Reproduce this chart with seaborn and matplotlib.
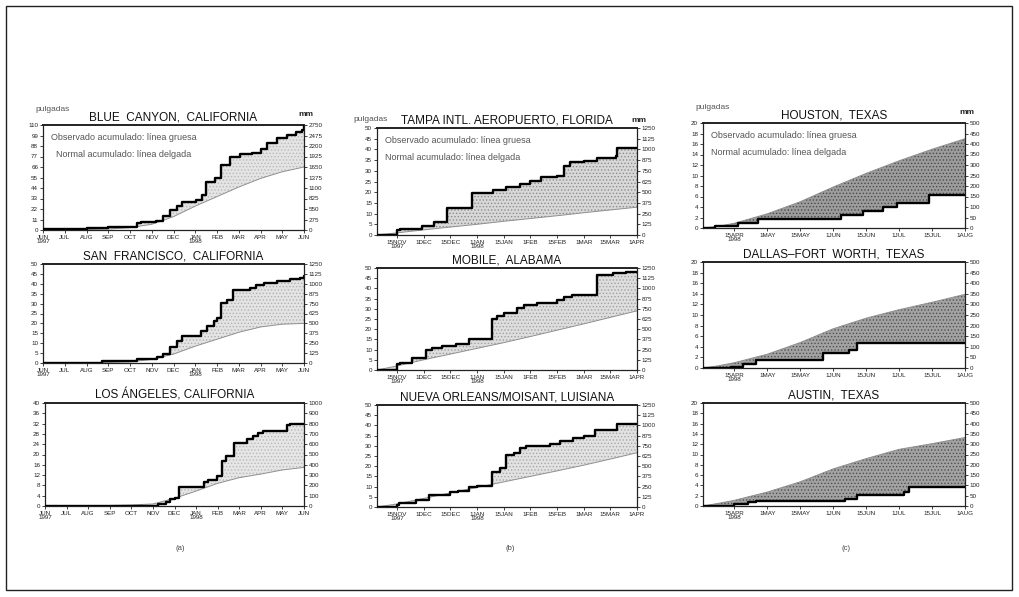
import numpy as np
import matplotlib
matplotlib.use('Agg')
import matplotlib.pyplot as plt
import seaborn as sns
from matplotlib.patches import Rectangle

# ---- column (a): x = months since 1 Jun 1997 ----
months_a = [0, 1, 2, 3, 4, 5, 6, 7, 8, 9, 10, 11, 12]
labels_a = ['JUN\n1997', 'JUL', 'AUG', 'SEP', 'OCT', 'NOV', 'DEC', 'JAN\n1998',
            'FEB', 'MAR', 'APR', 'MAY', 'JUN']

blue_obs_x = [0, 1.0, 2.0, 3.0, 4.0, 4.3, 4.5, 5.2, 5.5, 5.85, 6.15, 6.4, 7.05, 7.3, 7.5,
              7.9, 8.2, 8.6, 9.05, 9.6, 10.0, 10.3, 10.75, 11.2, 11.65, 11.9, 12.0]
blue_obs_y = [1.0, 1.5, 2.0, 2.8, 3.6, 7.0, 8.3, 9.5, 15.0, 21.0, 25.0, 29.5, 31.5, 37.0, 50.0,
              54.0, 68.0, 76.5, 79.5, 80.5, 84.5, 91.0, 96.0, 99.5, 103.0, 105.0, 109.0]
blue_norm = [0, 0.3, 0.5, 1.0, 2.5, 6.0, 14.0, 25.0, 35.0, 45.0, 54.0, 61.0, 66.0]

sf_obs_x = [0, 2.7, 4.3, 5.25, 5.5, 5.85, 6.15, 6.4, 7.25, 7.55, 7.85, 8.0, 8.2, 8.45, 8.75,
            9.5, 9.8, 10.15, 10.75, 11.35, 11.8, 12.0]
sf_obs_y = [0.2, 0.8, 1.9, 3.2, 4.6, 8.0, 11.0, 13.4, 16.0, 18.5, 21.0, 22.5, 30.4, 32.0, 37.0,
            37.8, 39.3, 40.5, 41.4, 42.5, 43.0, 44.0]
sf_norm = [0, 0.03, 0.1, 0.3, 0.6, 1.8, 4.5, 8.5, 12.0, 15.5, 18.2, 19.6, 20.0]

la_obs_x = [0, 5.25, 5.6, 5.8, 6.0, 6.2, 7.35, 7.55, 7.95, 8.2, 8.4, 8.75, 9.35, 9.65, 9.85,
            10.1, 11.2, 11.35, 12.0]
la_obs_y = [0.1, 0.9, 1.5, 2.6, 3.2, 7.3, 9.2, 10.0, 11.8, 17.6, 19.5, 24.6, 26.0, 27.2, 28.2,
            29.0, 31.3, 32.0, 32.0]
la_norm = [0, 0.03, 0.1, 0.2, 0.4, 0.8, 3.0, 5.8, 8.8, 11.0, 12.4, 14.0, 15.0]

# ---- column (b): x = half-months from 15 Nov 1997 ----
ticks_b = [0, 1, 2, 3, 4, 5, 6, 7, 8, 9]
labels_b = ['15NOV\n1997', '1DEC', '15DEC', '1JAN\n1998', '15JAN', '1FEB', '15FEB',
            '1MAR', '15MAR', '1APR']
norm_x_b = [-0.75, 0, 1, 2, 3, 4, 5, 6, 7, 8, 9]

tampa_obs_x = [-0.75, 0, 0.1, 0.94, 1.375, 1.875, 2.81, 3.6, 4.1, 4.6, 5.0, 5.4, 6.0, 6.25,
               6.5, 7.0, 7.5, 8.2, 8.25, 9.0]
tampa_obs_y = [0, 2.5, 3.0, 4.2, 6.3, 12.6, 19.5, 21.2, 22.2, 23.8, 25.2, 27.0, 27.8, 32.3,
               34.0, 34.8, 35.8, 37.0, 40.5, 40.5]
tampa_norm = [0, 1.0, 2.4, 3.7, 5.0, 6.4, 7.7, 9.0, 10.4, 11.7, 13.0]

mobile_obs_x = [-0.75, 0, 0.1, 0.56, 1.1, 1.3, 1.7, 2.2, 2.69, 3.0, 3.56, 3.75, 4.0, 4.5,
                4.75, 5.25, 6.0, 6.25, 6.56, 7.5, 8.1, 8.6, 9.0]
mobile_obs_y = [0, 2.7, 3.2, 5.8, 9.8, 10.6, 12.0, 12.7, 15.0, 15.4, 25.0, 26.5, 28.0, 30.5,
                32.0, 33.0, 34.5, 36.0, 37.0, 46.5, 47.5, 48.0, 48.0]
mobile_norm = [0, 2.0, 5.0, 7.8, 10.6, 13.4, 16.4, 19.5, 22.6, 25.8, 29.0]

nola_obs_x = [-0.75, 0, 0.06, 0.7, 1.19, 2.0, 2.3, 2.69, 3.0, 3.56, 3.85, 4.1, 4.4, 4.6,
              4.85, 5.75, 6.1, 6.6, 7.0, 7.44, 8.25, 9.0]
nola_obs_y = [0, 1.2, 2.0, 3.3, 6.0, 7.4, 7.7, 9.7, 10.2, 17.3, 19.2, 25.3, 26.6, 29.0,
              30.0, 30.8, 32.4, 33.7, 34.9, 37.8, 40.8, 40.8]
nola_norm = [0, 1.5, 4.2, 6.9, 9.6, 12.3, 15.0, 17.7, 20.5, 23.5, 26.6]

# ---- column (c): x = half-months from 15 Apr 1998 ----
ticks_c = [0, 1, 2, 3, 4, 5, 6, 7]
labels_c = ['15APR\n1998', '1MAY', '15MAY', '1JUN', '15JUN', '1JUL', '15JUL', '1AUG']
norm_x_c = [-0.95, -0.5, 0, 1, 2, 3, 4, 5, 6, 7]

houston_obs_x = [-0.95, -0.6, 0.1, 0.73, 3.25, 3.9, 4.5, 4.95, 5.9, 7.0]
houston_obs_y = [0, 0.3, 0.9, 1.8, 2.5, 3.3, 4.0, 4.8, 6.2, 6.2]
houston_norm = [0, 0.3, 0.9, 2.7, 5.0, 7.8, 10.4, 12.8, 15.0, 17.0]

dallas_obs_x = [-0.95, -0.1, 0.26, 0.66, 2.7, 3.47, 3.72, 7.0]
dallas_obs_y = [0, 0.2, 0.8, 1.5, 2.8, 3.4, 4.7, 4.7]
dallas_norm = [0, 0.4, 1.0, 2.6, 4.8, 7.4, 9.4, 11.0, 12.4, 13.9]

austin_obs_x = [-0.95, 0, 0.41, 0.66, 3.37, 3.72, 5.15, 5.3, 7.0]
austin_obs_y = [0, 0.45, 0.8, 0.9, 1.4, 2.2, 2.8, 3.6, 3.6]
austin_norm = [0, 0.5, 1.1, 2.7, 4.7, 7.2, 9.2, 11.0, 12.1, 13.3]

W, H = 1019, 597


def px_axes(left, top, right, bottom):
    return [left / W, 1 - bottom / H, (right - left) / W, (bottom - top) / H]


def step_xy(x, y):
    x = np.asarray(x, float)
    y = np.asarray(y, float)
    return np.repeat(x, 2)[1:], np.repeat(y, 2)[:-1]


sns.set_style('white')
plt.rcParams['font.family'] = ['Liberation Sans', 'DejaVu Sans']
plt.rcParams['hatch.linewidth'] = 0.6

panels = [
    # title, box px, obs x, obs y, norm x, norm y, ticks, labels, xlim, ymax, ystep, mm step, fill, hatch col
    ('BLUE  CANYON,  CALIFORNIA', (43, 125, 304, 230), blue_obs_x, blue_obs_y, months_a, blue_norm,
     months_a, labels_a, (0, 12), 110, 11, 275, '#e4e4e4', '#b8b8b8'),
    ('SAN  FRANCISCO,  CALIFORNIA', (43, 264, 304, 363), sf_obs_x, sf_obs_y, months_a, sf_norm,
     months_a, labels_a, (0, 12), 50, 5, 125, '#e4e4e4', '#b0b0b0'),
    ('LOS ÁNGELES, CALIFORNIA', (45, 403, 304, 506), la_obs_x, la_obs_y, months_a, la_norm,
     months_a, labels_a, (0, 12), 40, 4, 100, '#e6e6e6', '#b8b8b8'),
    ('TAMPA INTL. AEROPUERTO, FLORIDA', (377, 128, 637, 235), tampa_obs_x, tampa_obs_y, norm_x_b,
     tampa_norm, ticks_b, labels_b, (-0.75, 9), 50, 5, 125, '#d8d8d8', '#8c8c8c'),
    ('MOBILE,  ALABAMA', (377, 268, 637, 370), mobile_obs_x, mobile_obs_y, norm_x_b, mobile_norm,
     ticks_b, labels_b, (-0.75, 9), 50, 5, 125, '#dedede', '#a0a0a0'),
    ('NUEVA ORLEANS/MOISANT, LUISIANA', (377, 405, 637, 507), nola_obs_x, nola_obs_y, norm_x_b,
     nola_norm, ticks_b, labels_b, (-0.75, 9), 50, 5, 125, '#e2e2e2', '#a8a8a8'),
    ('HOUSTON,  TEXAS', (703, 123, 965, 228), houston_obs_x, houston_obs_y, norm_x_c, houston_norm,
     ticks_c, labels_c, (-0.95, 7), 20, 2, 50, '#9c9c9c', '#4a4a4a'),
    ('DALLAS\u2013FORT  WORTH,  TEXAS', (703, 262, 965, 368), dallas_obs_x, dallas_obs_y, norm_x_c,
     dallas_norm, ticks_c, labels_c, (-0.95, 7), 20, 2, 50, '#a2a2a2', '#505050'),
    ('AUSTIN,  TEXAS', (703, 403, 965, 506), austin_obs_x, austin_obs_y, norm_x_c, austin_norm,
     ticks_c, labels_c, (-0.95, 7), 20, 2, 50, '#a2a2a2', '#505050'),
]

fig = plt.figure(figsize=(W / 100, H / 100), dpi=100)
fig.patch.set_facecolor('white')
fig.add_artist(Rectangle((6 / W, 1 - 590 / H), 1006 / W, 584 / H, transform=fig.transFigure,
                         fill=False, edgecolor='#222222', lw=1.0))

for i, (title, box, ox, oy, nx, ny, ticks, labels, xlim, ymax, ystep, mmstep, fc, hc) in enumerate(panels):
    ax = fig.add_axes(px_axes(*box))
    sx, sy = step_xy(ox, oy)
    poly_x = np.concatenate([sx, np.asarray(nx, float)[::-1]])
    poly_y = np.concatenate([sy, np.asarray(ny, float)[::-1]])
    ax.fill(poly_x, poly_y, facecolor=fc, edgecolor=hc, hatch='.....', lw=0, zorder=1)
    sns.lineplot(x=nx, y=ny, color='#909090', lw=0.7, ax=ax, zorder=2)
    sns.lineplot(x=ox, y=oy, color='black', lw=1.7, drawstyle='steps-post', ax=ax, zorder=3)
    ax.set_xlim(*xlim)
    ax.set_ylim(0, ymax)
    ax.set_xticks(ticks)
    ax.set_xticklabels(labels, fontsize=4.2, linespacing=0.9)
    ax.set_yticks(np.arange(0, ymax + 0.1, ystep))
    ax.tick_params(axis='both', labelsize=4.5, length=2, width=0.6, pad=1.5,
                   direction='out', left=True, bottom=True, colors='#222222')
    for s in ax.spines.values():
        s.set_linewidth(0.9)
        s.set_color('#222222')
    ax.spines['top'].set_linewidth(1.4)
    ax.set_xlabel('')
    ax.set_ylabel('')
    ax2 = ax.twinx()
    ax2.set_ylim(0, ymax * 25)
    ax2.set_yticks(np.arange(0, ymax * 25 + 1, mmstep))
    ax2.tick_params(axis='y', labelsize=4.5, length=2, width=0.6, pad=1.5,
                    direction='out', right=True, colors='#222222')
    for s in ax2.spines.values():
        s.set_visible(False)
    ax.set_title(title, fontsize=8.5, pad=3, color='#111111')
    if i in (0, 3, 6):
        ax.text(0.03, 0.88, 'Observado acumulado: línea gruesa', transform=ax.transAxes,
                fontsize=6.5, color='#555555', va='center')
        ax.text(0.05 if i == 0 else 0.03, 0.72, 'Normal acumulado: línea delgada',
                transform=ax.transAxes, fontsize=6.5, color='#555555', va='center')
        px = -0.03 if i != 3 else -0.09
        ax.text(px, 1.15 if i != 3 else 1.08, 'pulgadas', transform=ax.transAxes,
                fontsize=6, color='#555555', va='center')
        ax.text(0.98, 1.10 if i != 3 else 1.07, 'mm', transform=ax.transAxes,
                fontsize=6, color='#222222', va='center', fontweight='bold')

for label, xpx in [('(a)', 180), ('(b)', 510), ('(c)', 846)]:
    fig.text(xpx / W, 1 - 548 / H, label, fontsize=5.5, color='#444444', ha='center', va='center')

fig.savefig('out.png', dpi=100)
